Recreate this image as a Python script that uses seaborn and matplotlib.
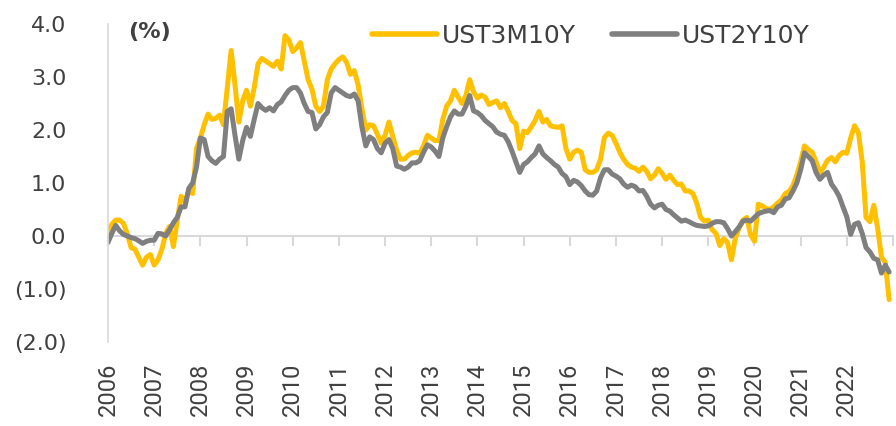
import pandas as pd
import seaborn as sns
import matplotlib.pyplot as plt
from matplotlib.lines import Line2D
from matplotlib.ticker import FuncFormatter
from matplotlib import font_manager

sns.set_style("white")
plt.rcParams['font.family'] = ['DejaVu Sans']
plt.rcParams['lines.solid_capstyle'] = 'round'
plt.rcParams['lines.solid_joinstyle'] = 'round'

# data bulanan Jan 2006 - Des 2022 (persen)
years = list(range(2006, 2023))

ust3m10y = [
    0.05, 0.22, 0.30, 0.30, 0.24, 0.05, -0.22, -0.25, -0.40, -0.55, -0.40, -0.35,   # 2006
    -0.55, -0.45, -0.25, 0.05, 0.18, -0.20, 0.30, 0.75, 0.65, 0.85, 0.80, 1.65,     # 2007
    1.85, 2.10, 2.30, 2.20, 2.22, 2.28, 2.10, 2.80, 3.50, 2.85, 2.15, 2.55,         # 2008
    2.75, 2.45, 2.80, 3.25, 3.35, 3.30, 3.25, 3.20, 3.30, 3.15, 3.78, 3.70,         # 2009
    3.48, 3.55, 3.65, 3.30, 2.95, 2.77, 2.45, 2.35, 2.45, 2.95, 3.15, 3.25,         # 2010
    3.33, 3.38, 3.28, 3.05, 3.12, 2.85, 2.40, 2.00, 2.10, 2.08, 1.92, 1.75,         # 2011
    1.90, 2.15, 1.88, 1.62, 1.45, 1.45, 1.52, 1.57, 1.58, 1.56, 1.70, 1.90,         # 2012
    1.85, 1.80, 1.80, 2.20, 2.45, 2.55, 2.75, 2.62, 2.50, 2.65, 2.95, 2.72,         # 2013
    2.60, 2.66, 2.62, 2.48, 2.52, 2.55, 2.42, 2.50, 2.35, 2.18, 2.12, 1.65,         # 2014
    1.98, 1.95, 2.06, 2.18, 2.35, 2.15, 2.20, 2.08, 2.06, 2.05, 2.08, 1.65,         # 2015
    1.45, 1.58, 1.62, 1.58, 1.25, 1.20, 1.20, 1.25, 1.45, 1.86, 1.94, 1.90,         # 2016
    1.75, 1.58, 1.45, 1.35, 1.30, 1.28, 1.22, 1.30, 1.22, 1.08, 1.15, 1.27,         # 2017
    1.18, 1.07, 1.15, 1.05, 0.97, 0.98, 0.85, 0.85, 0.80, 0.62, 0.35, 0.28,         # 2018
    0.30, 0.12, 0.05, -0.18, -0.05, -0.12, -0.45, -0.05, 0.15, 0.30, 0.35, 0.02,    # 2019
    -0.10, 0.60, 0.57, 0.52, 0.50, 0.55, 0.62, 0.68, 0.80, 0.84, 0.95, 1.15,        # 2020
    1.40, 1.70, 1.63, 1.58, 1.40, 1.20, 1.30, 1.43, 1.48, 1.40, 1.52, 1.58,         # 2021
    1.56, 1.85, 2.08, 1.95, 1.40, 0.35, 0.27, 0.58, 0.15, -0.40, -0.50, -1.20,      # 2022
]

ust2y10y = [
    -0.12, 0.05, 0.20, 0.10, 0.03, 0.00, -0.03, -0.05, -0.09, -0.14, -0.10, -0.08,  # 2006
    -0.08, 0.05, 0.04, 0.00, 0.12, 0.25, 0.35, 0.55, 0.55, 0.90, 1.00, 1.30,        # 2007
    1.85, 1.82, 1.50, 1.42, 1.37, 1.45, 1.50, 2.35, 2.40, 1.90, 1.45, 1.80,         # 2008
    2.05, 1.88, 2.20, 2.50, 2.42, 2.37, 2.42, 2.36, 2.48, 2.53, 2.65, 2.75,         # 2009
    2.80, 2.80, 2.70, 2.50, 2.35, 2.33, 2.02, 2.10, 2.25, 2.33, 2.70, 2.80,         # 2010
    2.75, 2.70, 2.65, 2.63, 2.68, 2.55, 2.05, 1.70, 1.87, 1.82, 1.65, 1.57,         # 2011
    1.75, 1.82, 1.65, 1.32, 1.30, 1.26, 1.30, 1.38, 1.38, 1.42, 1.58, 1.72,         # 2012
    1.68, 1.60, 1.50, 1.85, 2.06, 2.25, 2.36, 2.30, 2.30, 2.45, 2.65, 2.36,         # 2013
    2.33, 2.27, 2.18, 2.12, 2.06, 1.96, 1.92, 1.90, 1.78, 1.60, 1.40, 1.20,         # 2014
    1.35, 1.40, 1.48, 1.55, 1.70, 1.55, 1.48, 1.42, 1.35, 1.30, 1.18, 1.12,         # 2015
    0.97, 1.05, 1.02, 0.95, 0.85, 0.78, 0.77, 0.85, 1.10, 1.25, 1.25, 1.17,         # 2016
    1.13, 1.08, 0.98, 0.92, 0.96, 0.93, 0.85, 0.86, 0.75, 0.60, 0.53, 0.58,         # 2017
    0.60, 0.50, 0.47, 0.40, 0.34, 0.28, 0.30, 0.27, 0.23, 0.20, 0.19, 0.18,         # 2018
    0.19, 0.24, 0.27, 0.27, 0.25, 0.14, 0.00, 0.08, 0.17, 0.28, 0.30, 0.28,         # 2019
    0.35, 0.42, 0.45, 0.47, 0.48, 0.44, 0.55, 0.58, 0.70, 0.72, 0.85, 1.00,         # 2020
    1.25, 1.57, 1.50, 1.42, 1.20, 1.07, 1.15, 1.20, 0.98, 0.88, 0.75, 0.55,         # 2021
    0.36, 0.03, 0.22, 0.25, 0.05, -0.22, -0.30, -0.42, -0.45, -0.70, -0.55, -0.68,  # 2022
]

series_names = ['UST3M10Y', 'UST2Y10Y']
colors = {'UST3M10Y': '#FFC000', 'UST2Y10Y': '#7F7F7F'}

bulan = [y + m / 12 for y in years for m in range(12)]
df = pd.DataFrame({
    'Tahun': bulan * 2,
    'Spread': ust3m10y + ust2y10y,
    'Seri': [series_names[0]] * len(bulan) + [series_names[1]] * len(bulan),
})

fig = plt.figure(figsize=(8.96, 4.26), dpi=100)
ax = fig.add_axes([108 / 896, 84 / 426, 785 / 896, 318 / 426])

sns.lineplot(data=df, x='Tahun', y='Spread', hue='Seri', hue_order=series_names,
             palette=colors, linewidth=3.6, legend=False, ax=ax)

text_col = '#404040'
axis_col = '#d9d9d9'

ax.set_xlim(2006, 2023)
ax.set_ylim(-2, 4)
ax.set_xlabel('')
ax.set_ylabel('')

# sumbu y
ax.set_yticks(range(-2, 5))
ax.yaxis.set_major_formatter(FuncFormatter(
    lambda v, p: f"({abs(v):.1f})" if v < 0 else f"{v:.1f}"))
ax.tick_params(axis='y', length=8, width=1.2, color=axis_col,
               labelcolor=text_col, labelsize=16, pad=22)

# label tahun di bawah
ax.set_xticks(years)
ax.set_xticklabels([str(y) for y in years], rotation=90)
ax.tick_params(axis='x', length=0, labelcolor=text_col, labelsize=20, pad=15)
narrow = 'Liberation Sans Narrow'
try:
    font_manager.findfont(narrow, fallback_to_default=False)
    fam = [narrow, 'DejaVu Sans']
except Exception:
    fam = ['Roboto', 'DejaVu Sans']
    ax.tick_params(axis='x', labelsize=17)
for lbl in ax.get_xticklabels():
    lbl.set_fontfamily(fam)

for s in ['top', 'right', 'bottom']:
    ax.spines[s].set_visible(False)
ax.spines['left'].set_color(axis_col)
ax.spines['left'].set_linewidth(1.2)

# garis nol dengan tick per tahun
sec = ax.secondary_xaxis(1 / 3)
sec.set_xticks(list(range(2006, 2024)))
sec.tick_params(axis='x', length=7.5, width=1.5, color=axis_col,
                labelbottom=False, labeltop=False, direction='out')
sec.spines['bottom'].set_color(axis_col)
sec.spines['bottom'].set_linewidth(1.5)
sec.spines['top'].set_visible(False)
sec.set_zorder(0)

ax.text(0.0255, 0.975, '(%)', transform=ax.transAxes, ha='left', va='center',
        fontsize=16, fontweight='bold', color=text_col)

handles = [Line2D([], [], color=colors[n], linewidth=4, solid_capstyle='round')
           for n in series_names]
ax.legend(handles, series_names, loc='center', bbox_to_anchor=(0.615, 0.962),
          ncol=2, frameon=False, fontsize=18, labelcolor=text_col,
          handlelength=2.6, handletextpad=0.2, columnspacing=1.44,
          borderpad=0, borderaxespad=0)

fig.savefig('out.png', dpi=100)
plt.close()
